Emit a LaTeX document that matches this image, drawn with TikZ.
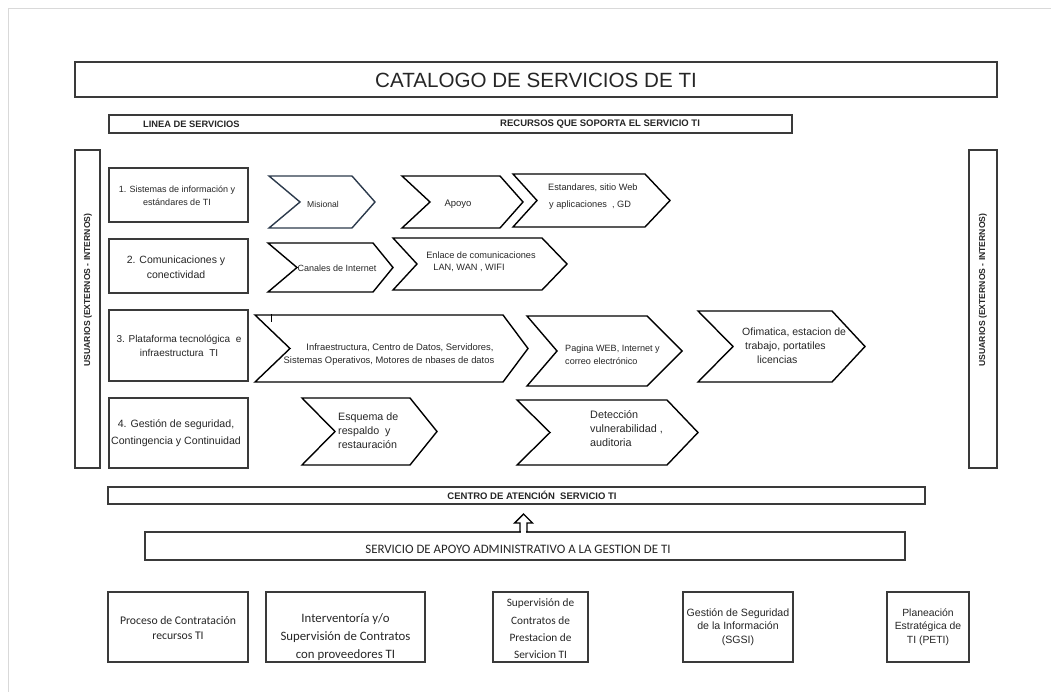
\documentclass[tikz,border=0pt]{standalone}
\usepackage{fontspec}
\setmainfont{Liberation Sans}
\newfontfamily\calfont{Carlito}
\usetikzlibrary{calc}
\definecolor{boxc}{HTML}{3A3A3A}
\definecolor{txtc}{HTML}{262626}
\definecolor{misc}{HTML}{2C3A4C}
\newcommand{\fsz}[2]{\fontsize{#1}{#2}\selectfont}
\newcommand{\bx}[6]{\node[box,minimum width={(#4)-(#2)},minimum height={(#5)-(#3)},#6] (#1) at ({((#2)+(#4))/2},{((#3)+(#5))/2}) {};}
\newcommand{\chev}[7]{\draw[chevron,#7] (#1,#5) -- (#3,#5) -- (#4,{((#5)+(#6))/2}) -- (#3,#6) -- (#1,#6) -- (#2,{((#5)+(#6))/2}) -- cycle;}
\begin{document}
\begin{tikzpicture}[x=1pt,y=-1pt,
  box/.style={draw=boxc,line width=1.5pt,inner sep=0pt,fill=white},
  chevron/.style={draw=black,line width=1.4pt,line join=miter},
  txt/.style={text=txtc,inner sep=0pt,align=center},
]
\useasboundingbox (0,0) rectangle (1051,692);
\draw[black!15,line width=1pt] (8,692) -- (8,9) -- (1051,9);

% title and header
\bx{title}{75}{62}{997}{97}{}
\node[txt,font=\fsz{20.6}{23}] (titlet) at (536,80) {CATALOGO DE SERVICIOS DE TI};
\bx{head}{109}{115}{792}{133}{}
\node[txt,font=\bfseries\fsz{9.3}{10},anchor=west] (headl) at (143,124.5) {LINEA DE SERVICIOS};
\node[txt,font=\bfseries\fsz{9.5}{10},anchor=west] (headr) at (500,124.5) {RECURSOS QUE SOPORTA EL SERVICIO TI};

% users
\bx{ul}{75}{150}{100}{468}{}
\node[txt,font=\bfseries\fsz{8.6}{11},rotate=90] (ult) at (88,290) {USUARIOS (EXTERNOS - INTERNOS)};
\bx{ur}{969}{150}{997}{468}{}
\node[txt,font=\bfseries\fsz{8.6}{11},rotate=90] (urt) at (983,290) {USUARIOS (EXTERNOS - INTERNOS)};

% rows
\bx{r1}{109}{168}{248}{222}{}
\node[txt,font=\fsz{9}{13}] (r1t) at (177,196) {1. Sistemas de información y\\estándares de TI};
\bx{r2}{109}{239}{248}{293}{}
\node[txt,font=\fsz{10.5}{15}] (r2t) at (176,267.5) {2. Comunicaciones y\\conectividad};
\bx{r3}{109}{310}{248}{381}{}
\node[txt,font=\fsz{10}{14}] (r3t) at (179,346) {3. Plataforma tecnológica\ \ e\\infraestructura\ \ TI};
\bx{r4}{109}{398}{248}{468}{}
\node[txt,font=\fsz{10.6}{17}] (r4t) at (176,433.5) {4. Gestión de seguridad,\\Contingencia y Continuidad};

% row 1 chevrons
\chev{269}{300}{352}{375}{176}{228}{draw=misc}
\node[txt,font=\fsz{8.6}{10}] (mis) at (323,204.5) {Misional};
\chev{402}{430}{500}{523}{176}{228}{}
\node[txt,font=\fsz{9.5}{10}] (apo) at (458,204.5) {Apoyo};
\chev{513}{537}{645}{670}{174}{227}{}
\node[txt,font=\fsz{9.2}{17},align=left,anchor=west] (est) at (548,197) {Estandares, sitio Web\\\hspace*{1pt}y aplicaciones\ \ , GD};

% row 2 chevrons
\chev{268}{297}{373}{393}{243}{292}{}
\node[txt,font=\fsz{9}{10}] (can) at (337,268) {Canales de Internet};
\chev{393}{417}{542}{567}{238}{290}{}
\node[txt,font=\fsz{9.2}{12}] (enl) at (481,262) {Enlace de comunicaciones\\\hspace*{-24pt}LAN, WAN\ , WIFI};

% row 3 chevrons
\chev{255}{290}{503}{528}{315}{382}{}
\draw[black,line width=0.6pt] (271,314) -- (271,322);
\node[txt,font=\fsz{9.4}{13.5},align=center] (inf) at (389,354.5) {\hspace*{22pt}Infraestructura, Centro de Datos, Servidores,\\Sistemas Operativos, Motores de nbases de datos};
\chev{527}{557}{647}{682}{316}{386}{}
\node[txt,font=\fsz{9.1}{13},align=left,anchor=west] (pag) at (565,354.5) {Pagina WEB, Internet y\\correo electrónico};
\chev{698}{733}{832}{865}{311}{382}{}
\node[txt,font=\fsz{10.5}{14},align=left,anchor=west] (ofi) at (742,346) {Ofimatica, estacion de\\\hspace*{3pt}trabajo, portatiles\\\hspace*{15pt}licencias};

% row 4 chevrons
\chev{302}{335}{410}{437}{398}{465}{}
\node[txt,font=\fsz{10.7}{14},align=left,anchor=west] (esq) at (338,431) {Esquema de\\respaldo\ \ y\\restauración};
\chev{517}{550}{667}{698}{400}{465}{}
\node[txt,font=\fsz{10.8}{14},align=left,anchor=west] (det) at (590,429) {Detección\\vulnerabilidad ,\\auditoria};

% centro / servicio
\bx{cen}{108}{487}{925}{504}{}
\node[txt,font=\bfseries\fsz{9.5}{10}] (cent) at (532,495.5) {CENTRO DE ATENCIÓN\ \ SERVICIO TI};
\bx{serv}{145}{532}{905}{560}{}
\node[txt,font=\calfont\fsz{12.9}{14}] (servt) at (518,549) {SERVICIO DE APOYO ADMINISTRATIVO A LA GESTION DE TI};
\coordinate (a1) at (520,532); \coordinate (a2) at (527,532);
\fill[white] (520.8,530) rectangle (526.2,534);
\draw[draw=black,line width=1.4pt,line join=miter] (a1) -- (520,523) -- (514.5,523) -- (523.5,514) -- (532.5,523) -- (527,523) -- (a2);

% bottom boxes
\bx{b1}{108}{592}{248}{662}{}
\node[txt,font=\calfont\fsz{11.7}{15}] (b1t) at (178,627.5) {Proceso de Contratación\\recursos TI};
\bx{b2}{266}{592}{425}{662}{}
\node[txt,font=\calfont\fsz{12.8}{18}] (b2t) at (345.5,637) {Interventoría y/o\\Supervisión de Contratos\\con proveedores TI};
\bx{b3}{493}{592}{588}{662}{}
\node[txt,font=\calfont\fsz{11.3}{17.3}] (b3t) at (540.5,629) {Supervisión de\\Contratos de\\Prestacion de\\Servicion TI};
\bx{b4}{683}{592}{793}{662}{}
\node[txt,font=\fsz{10.6}{13.5}] (b4t) at (738,627) {Gestión de Seguridad\\de la Información\\(SGSI)};
\bx{b5}{887}{592}{969}{662}{}
\node[txt,font=\fsz{10.4}{13.5}] (b5t) at (928,627) {Planeación\\Estratégica de\\TI (PETI)};
\end{tikzpicture}
\end{document}
